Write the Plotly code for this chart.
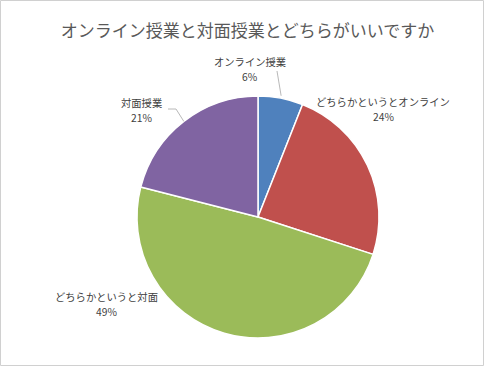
import math
import plotly.graph_objects as go

# ---- data ----
categories = ["オンライン授業", "どちらかというとオンライン", "どちらかというと対面", "対面授業"]
values = [6, 24, 49, 21]
colors = ["#4F81BD", "#C0504D", "#9BBB59", "#8064A2"]
title_text = "オンライン授業と対面授業とどちらがいいですか"

W, H = 486, 371
FONT = "Noto Sans CJK JP, Meiryo, sans-serif"

# pie geometry in pixels
cx, cy, r = 258, 217, 121


def px(x, y):
    return x / W, 1 - y / H


fig = go.Figure(
    go.Pie(
        labels=categories,
        values=values,
        sort=False,
        direction="clockwise",
        rotation=0,
        marker=dict(colors=colors, line=dict(color="white", width=1.5)),
        textinfo="none",
        hoverinfo="label+percent",
        showlegend=False,
        domain=dict(x=[(cx - r) / W, (cx + r) / W], y=[1 - (cy + r) / H, 1 - (cy - r) / H]),
    )
)

# label positions (pixel centers of the two-line label blocks), same order as categories
label_pos = [(250, 69), (383, 109), (106, 304), (141, 110)]
total = sum(values)
annotations = []
lab_font = dict(family=FONT, size=10.3, color="#404040")
for cat, v, (lx, ly) in zip(categories, values, label_pos):
    for txt, yy in ((cat, ly - 7.5), (f"{round(v / total * 100)}%", ly + 7.5)):
        x, y = px(lx, yy)
        annotations.append(
            dict(
                x=x, y=y, xref="paper", yref="paper",
                text=txt, showarrow=False, align="center",
                xanchor="center", yanchor="middle",
                font=lab_font,
            )
        )

# leader lines computed from slice mid-angles
cum = 0
mids = []
for v in values:
    mids.append((cum + v / 2) / total * 2 * math.pi)
    cum += v


def edge(i, k=1.0):
    a = mids[i]
    return cx + k * r * math.sin(a), cy - k * r * math.cos(a)


shapes = []
lc = dict(color="#A6A6A6", width=0.8)
# オンライン授業
ex, ey = edge(0, 1.02)
x0, y0 = px(277, 71)
x1, y1 = px(ex, ey)
shapes.append(dict(type="line", xref="paper", yref="paper", x0=x0, y0=y0, x1=x1, y1=y1, line=lc))
# 対面授業
ex, ey = edge(3, 1.0)
xa, ya = px(168, 109)
xb, yb = px(176, 109)
xc, yc = px(ex, ey)
shapes.append(dict(type="line", xref="paper", yref="paper", x0=xa, y0=ya, x1=xb, y1=yb, line=lc))
shapes.append(dict(type="line", xref="paper", yref="paper", x0=xb, y0=yb, x1=xc, y1=yc, line=lc))

# chart border
bx0, by0 = px(0.5, 0.5)
bx1, by1 = px(483.5, 365.5)
shapes.append(dict(type="rect", xref="paper", yref="paper", x0=bx0, y0=by1, x1=bx1, y1=by0,
                   line=dict(color="#D0D0D0", width=1), layer="below"))

tx, ty = px(247.5, 31)
fig.update_layout(
    width=W, height=H,
    margin=dict(l=0, r=0, t=0, b=0),
    paper_bgcolor="white",
    plot_bgcolor="white",
    title=dict(text=title_text, x=tx, y=ty, xanchor="center", yanchor="middle",
               font=dict(family=FONT, size=17, color="#595959")),
    annotations=annotations,
    shapes=shapes,
)

fig.write_html(
    "out.html",
    config={"displayModeBar": False},
    post_script="document.body.style.margin='0';document.body.style.overflow='hidden';",
)
